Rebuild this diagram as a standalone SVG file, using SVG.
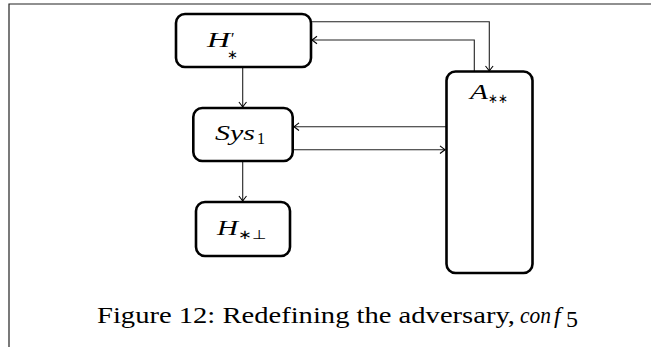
<svg xmlns="http://www.w3.org/2000/svg" width="651" height="347" viewBox="0 0 651 347">
<style>
.box{fill:#fff;stroke:#000;stroke-width:2.6}
.con{fill:none;stroke:#222;stroke-width:1.1}
text{font-family:'Liberation Serif','Times New Roman',Times,serif;fill:#000}
.m{font-style:italic;font-size:22px}
.s{font-style:normal;font-size:16px}
.st{font-style:normal;font-size:13px}
.cap{font-size:24px}
</style>
<defs>
<marker id="ah" markerWidth="10" markerHeight="10" refX="0" refY="0" viewBox="-6 -5 7 10" orient="auto" markerUnits="userSpaceOnUse">
<path d="M-5,-3.8 Q-1.5,-1 0,0 Q-1.5,1 -5,3.8" fill="none" stroke="#000" stroke-width="1.1"/>
</marker>
</defs>
<rect width="651" height="347" fill="#fff"/>
<path d="M9,347 V4 H651" fill="none" stroke="#222" stroke-width="1.2"/>
<g id="connectors">
<path class="con" d="M311,21.7 H489.3 V71" marker-end="url(#ah)"/>
<path class="con" d="M474.3,71 V40 H312" marker-end="url(#ah)"/>
<path class="con" d="M242.7,67 V107" marker-end="url(#ah)"/>
<path class="con" d="M446,126.7 H294" marker-end="url(#ah)"/>
<path class="con" d="M293,149.7 H445" marker-end="url(#ah)"/>
<path class="con" d="M242.7,161 V201" marker-end="url(#ah)"/>
</g>
<g id="node-H-prime">
<rect class="box" x="176" y="14" width="135" height="53" rx="9"/>
<text class="m" x="207" y="47" textLength="23" lengthAdjust="spacingAndGlyphs">H</text>
<text class="s" x="231" y="44" font-size="18">′</text>
<text class="st" x="227" y="59">∗</text>
</g>
<g id="node-Sys1">
<rect class="box" x="193.3" y="108" width="99.4" height="53" rx="9"/>
<text class="m" x="215" y="140" textLength="40" lengthAdjust="spacingAndGlyphs">Sys</text>
<text class="s" x="257" y="144">1</text>
</g>
<g id="node-H-bot">
<rect class="box" x="196" y="202" width="94" height="54" rx="9"/>
<text class="m" x="217" y="235" textLength="21" lengthAdjust="spacingAndGlyphs">H</text>
<text class="st" x="238" y="239" textLength="28" lengthAdjust="spacingAndGlyphs">∗⊥</text>
</g>
<g id="node-A">
<rect class="box" x="446.5" y="71.5" width="86" height="201.5" rx="9"/>
<text class="m" x="470" y="99" textLength="18" lengthAdjust="spacingAndGlyphs">A</text>
<text class="st" x="488" y="103" textLength="20" lengthAdjust="spacingAndGlyphs">∗∗</text>
</g>
<g id="caption">
<text class="cap" x="97" y="323" textLength="418" lengthAdjust="spacingAndGlyphs">Figure 12: Redefining the adversary,</text>
<text class="cap" x="520" y="323" font-style="italic" textLength="31" lengthAdjust="spacingAndGlyphs">con</text>
<text class="cap" x="554" y="323" font-style="italic">f</text>
<text class="cap" x="566" y="327" font-size="16">5</text>
</g>
</svg>
